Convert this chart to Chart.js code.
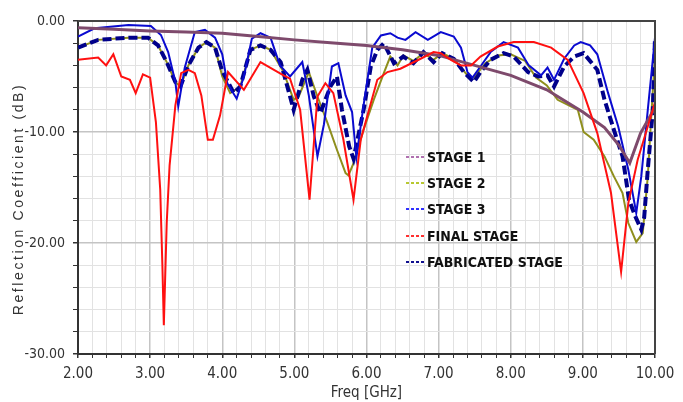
<!DOCTYPE html>
<html>
<head>
<meta charset="utf-8">
<script src="https://cdn.jsdelivr.net/npm/chart.js@4/dist/chart.umd.min.js"></script>
<style>
  html, body { margin: 0; padding: 0; background: #fff; }
  canvas { display: block; }
</style>
</head>
<body>
<canvas id="chart" width="683" height="402"></canvas>
<script>
// series names
const seriesNames = ['STAGE 1', 'STAGE 2', 'STAGE 3', 'FINAL STAGE', 'FABRICATED STAGE'];

// STAGE 1
const stage1Freq = [2.0, 2.5, 3.0, 3.5, 4.0, 4.5, 5.0, 5.5, 6.0, 6.5, 7.0, 7.5, 8.0, 8.5, 9.0, 9.3, 9.5, 9.65, 9.8, 10.0];
const stage1Db = [-0.6, -0.75, -0.9, -1.0, -1.1, -1.4, -1.7, -1.95, -2.2, -2.6, -3.1, -4.0, -4.9, -6.2, -8.2, -9.6, -11.2, -12.8, -10.1, -7.8];

// STAGE 2
const stage2Freq = [2.0, 2.28, 2.7, 2.97, 3.11, 3.23, 3.35, 3.42, 3.53, 3.67, 3.78, 3.9, 4.0, 4.11, 4.25, 4.39, 4.53, 4.67, 4.85, 4.99, 5.06, 5.2, 5.32, 5.46, 5.59, 5.71, 5.75, 5.82, 5.96, 6.1, 6.24, 6.33, 6.43, 6.51, 6.65, 6.79, 6.93, 7.05, 7.21, 7.4, 7.49, 7.65, 7.82, 8.0, 8.2, 8.35, 8.5, 8.65, 8.93, 9.01, 9.15, 9.3, 9.43, 9.55, 9.63, 9.74, 9.83, 9.9, 9.94, 10.0];
const stage2Db = [-2.4, -1.7, -1.5, -1.5, -2.2, -3.7, -5.5, -5.9, -4.0, -2.4, -1.9, -2.4, -5.0, -6.5, -5.9, -2.6, -2.2, -2.6, -4.6, -7.1, -6.8, -4.6, -6.8, -9.2, -11.6, -13.7, -13.9, -12.8, -9.8, -7.1, -4.7, -3.2, -4.0, -3.1, -3.6, -2.9, -3.5, -2.9, -3.4, -4.9, -5.1, -3.8, -3.1, -3.0, -3.6, -5.1, -5.8, -7.1, -8.0, -10.0, -10.7, -12.2, -14.0, -15.5, -18.2, -19.9, -19.1, -14.0, -9.5, -3.0];

// STAGE 3
const stage3Freq = [2.0, 2.23, 2.7, 3.01, 3.15, 3.25, 3.35, 3.39, 3.48, 3.62, 3.76, 3.9, 4.0, 4.07, 4.2, 4.3, 4.41, 4.53, 4.67, 4.8, 4.94, 5.11, 5.2, 5.32, 5.41, 5.52, 5.61, 5.71, 5.8, 5.86, 5.95, 6.08, 6.2, 6.33, 6.43, 6.54, 6.68, 6.85, 7.03, 7.21, 7.31, 7.4, 7.47, 7.58, 7.72, 7.9, 8.1, 8.25, 8.42, 8.51, 8.6, 8.74, 8.88, 8.97, 9.1, 9.2, 9.35, 9.49, 9.63, 9.74, 9.81, 9.9, 10.0];
const stage3Db = [-1.4, -0.66, -0.36, -0.45, -1.26, -2.8, -5.5, -7.7, -4.2, -1.0, -0.8, -1.5, -3.0, -5.6, -7.0, -5.0, -1.6, -1.1, -1.5, -4.0, -5.0, -3.7, -6.7, -12.2, -9.3, -4.1, -3.8, -6.7, -8.2, -12.3, -8.0, -2.4, -1.3, -1.1, -1.5, -1.7, -1.0, -1.7, -1.0, -1.4, -2.4, -4.6, -5.1, -4.1, -2.8, -1.9, -2.4, -4.0, -4.9, -4.2, -5.3, -3.4, -2.2, -1.9, -2.2, -3.0, -6.5, -9.5, -13.4, -17.3, -14.0, -8.0, -1.5];

// FINAL STAGE
const finalFreq = [2.0, 2.28, 2.39, 2.49, 2.6, 2.72, 2.8, 2.9, 3.0, 3.08, 3.14, 3.17, 3.19, 3.23, 3.27, 3.35, 3.43, 3.53, 3.62, 3.71, 3.8, 3.87, 3.97, 4.08, 4.3, 4.53, 4.85, 4.94, 5.08, 5.21, 5.32, 5.43, 5.54, 5.68, 5.82, 5.92, 6.15, 6.29, 6.47, 6.75, 6.93, 7.03, 7.17, 7.31, 7.45, 7.58, 7.82, 8.04, 8.32, 8.56, 8.79, 9.01, 9.2, 9.39, 9.53, 9.63, 9.76, 9.9, 10.0];
const finalDb = [-3.5, -3.3, -4.0, -3.0, -5.0, -5.3, -6.5, -4.8, -5.1, -9.1, -15.2, -22.0, -27.4, -18.2, -13.0, -7.6, -4.7, -4.4, -4.7, -6.7, -10.7, -10.7, -8.5, -4.6, -6.2, -3.7, -4.9, -5.2, -8.0, -16.1, -6.8, -5.6, -6.5, -10.7, -16.1, -10.7, -5.3, -4.6, -4.3, -3.4, -2.8, -2.9, -3.5, -4.0, -4.0, -3.2, -2.3, -1.9, -1.9, -2.4, -3.5, -6.5, -10.1, -15.5, -22.6, -16.4, -12.5, -9.5, -7.3];

// FABRICATED STAGE
const fabFreq = [2.0, 2.28, 2.7, 2.97, 3.11, 3.23, 3.35, 3.42, 3.53, 3.67, 3.78, 3.9, 4.0, 4.16, 4.25, 4.39, 4.53, 4.67, 4.81, 4.99, 5.11, 5.18, 5.27, 5.36, 5.5, 5.59, 5.66, 5.76, 5.82, 5.96, 6.06, 6.15, 6.24, 6.38, 6.51, 6.65, 6.79, 6.93, 7.05, 7.21, 7.35, 7.49, 7.58, 7.72, 7.9, 8.04, 8.24, 8.38, 8.51, 8.6, 8.74, 8.88, 9.01, 9.2, 9.3, 9.43, 9.55, 9.64, 9.72, 9.81, 9.85, 9.9, 9.97, 10.0];
const fabDb = [-2.4, -1.7, -1.5, -1.5, -2.2, -3.7, -5.5, -5.9, -4.0, -2.4, -1.9, -2.4, -4.5, -6.5, -5.9, -2.6, -2.2, -2.6, -3.7, -8.0, -5.3, -4.4, -6.8, -8.3, -5.9, -5.0, -8.0, -11.3, -12.4, -8.0, -4.1, -2.6, -2.0, -3.8, -3.2, -3.8, -2.8, -3.7, -2.9, -3.4, -4.6, -5.5, -4.6, -3.5, -2.9, -3.2, -4.6, -5.0, -4.9, -5.9, -4.1, -3.2, -2.9, -4.4, -7.1, -9.8, -12.2, -16.1, -17.5, -18.8, -17.7, -13.4, -8.0, -1.5];

// axis ranges / ticks
const freqMin = 2, freqMax = 10, freqStep = 0.2;
const dbMin = -30, dbMax = 0, dbStep = 2;

const lineColors = ['#7e4a6c', '#8f8f1c', '#0a0ad0', '#ff1010', '#00008a'];
const legendColors = ['#b070b0', '#b8c830', '#3030ff', '#ff3030', '#101090'];

function pts(xs, ys) {
    return xs.map((x, i) => ({ x: x, y: ys[i] }));
}

const narrow = "'Liberation Sans Narrow', 'DejaVu Sans Condensed', sans-serif";

// legend drawn inside the plot, with short dotted swatches
const innerLegend = {
    id: 'innerLegend',
    afterDatasetsDraw(chart) {
        const ctx = chart.ctx;
        ctx.save();
        ctx.font = "bold 14px " + narrow;
        ctx.textBaseline = 'middle';
        const rows = [157, 183, 209, 236, 262];
        seriesNames.forEach((name, i) => {
            const y = rows[i];
            ctx.strokeStyle = legendColors[i];
            ctx.lineWidth = 2;
            ctx.setLineDash([3, 2]);
            ctx.beginPath();
            ctx.moveTo(406, y);
            ctx.lineTo(426, y);
            ctx.stroke();
            ctx.setLineDash([]);
            ctx.fillStyle = '#111';
            ctx.fillText(name, 427, y + 1);
        });
        ctx.restore();
    }
};

// top/right frame and the spaced-out y title
const frame = {
    id: 'frame',
    afterDraw(chart) {
        const ctx = chart.ctx;
        const a = chart.chartArea;
        ctx.save();
        ctx.strokeStyle = '#444';
        ctx.lineWidth = 2;
        ctx.beginPath();
        ctx.moveTo(a.left, a.top);
        ctx.lineTo(a.right, a.top);
        ctx.lineTo(a.right, a.bottom);
        ctx.stroke();

        ctx.translate(19, 199);
        ctx.rotate(-Math.PI / 2);
        ctx.font = "14px 'Liberation Sans', Arial, sans-serif";
        ctx.letterSpacing = '2.6px';
        ctx.fillStyle = '#333';
        ctx.textAlign = 'center';
        ctx.textBaseline = 'middle';
        ctx.fillText('Reflection Coefficient (dB)', 0, 0);
        ctx.restore();
    }
};

const ctx = document.getElementById('chart').getContext('2d');
new Chart(ctx, {
    type: 'scatter',
    data: {
        datasets: [
            { label: seriesNames[3], data: pts(finalFreq, finalDb), borderColor: lineColors[3], borderWidth: 2, order: 0 },
            { label: seriesNames[0], data: pts(stage1Freq, stage1Db), borderColor: lineColors[0], borderWidth: 3, order: 1 },
            { label: seriesNames[2], data: pts(stage3Freq, stage3Db), borderColor: lineColors[2], borderWidth: 2, order: 2 },
            { label: seriesNames[4], data: pts(fabFreq, fabDb), borderColor: lineColors[4], borderWidth: 4, borderDash: [9, 4], order: 3 },
            { label: seriesNames[1], data: pts(stage2Freq, stage2Db), borderColor: lineColors[1], borderWidth: 2, order: 4 }
        ].map(d => Object.assign(d, { showLine: true, pointRadius: 0, tension: 0, fill: false }))
    },
    options: {
        responsive: false,
        animation: false,
        layout: { padding: { top: 21, right: 28, left: 0, bottom: 0 } },
        plugins: {
            legend: { display: false },
            tooltip: { enabled: false }
        },
        scales: {
            x: {
                type: 'linear',
                min: freqMin,
                max: freqMax,
                afterFit: s => { s.height = 48; },
                ticks: {
                    stepSize: freqStep,
                    autoSkip: false,
                    maxRotation: 0,
                    padding: 7,
                    color: '#333',
                    font: { family: narrow, size: 15 },
                    callback: v => Math.abs(v - Math.round(v)) < 1e-6 ? Number(v).toFixed(2) : ''
                },
                grid: {
                    color: c => Math.abs(c.tick.value - Math.round(c.tick.value)) < 1e-6 ? '#c4c4c4' : '#e2e2e2',
                    lineWidth: c => Math.abs(c.tick.value - Math.round(c.tick.value)) < 1e-6 ? 1.5 : 1,
                    tickColor: '#333',
                    tickLength: 4
                },
                border: { color: '#333', width: 2 },
                title: {
                    display: true,
                    text: 'Freq [GHz]',
                    color: '#333',
                    font: { family: narrow, size: 15 },
                    padding: { top: 0, bottom: 0 }
                }
            },
            y: {
                type: 'linear',
                min: dbMin,
                max: dbMax,
                afterFit: s => { s.width = 78; },
                ticks: {
                    stepSize: dbStep,
                    autoSkip: false,
                    padding: 8,
                    color: '#333',
                    font: { family: narrow, size: 14 },
                    callback: v => v % 10 === 0 ? Number(v).toFixed(2) : ''
                },
                grid: {
                    color: c => c.tick.value % 10 === 0 ? '#c4c4c4' : '#e2e2e2',
                    lineWidth: c => c.tick.value % 10 === 0 ? 1.5 : 1,
                    tickColor: '#333',
                    tickLength: 5
                },
                border: { color: '#333', width: 2 }
            }
        }
    },
    plugins: [innerLegend, frame]
});
</script>
</body>
</html>
